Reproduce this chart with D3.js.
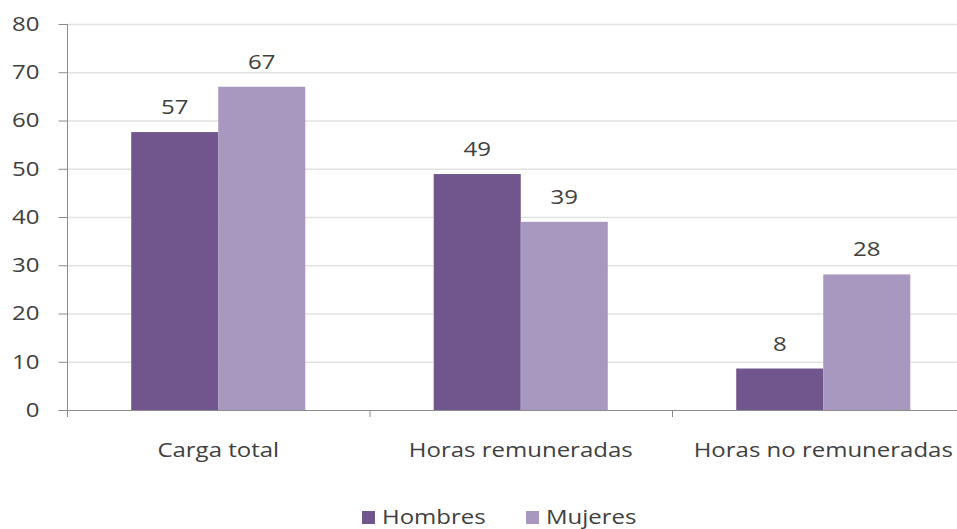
<!DOCTYPE html>
<html>
  <head>
    <meta charset="utf-8">
    <title>Carga de trabajo</title>
    <script src="https://cdnjs.cloudflare.com/ajax/libs/d3/7.8.5/d3.min.js"></script>
    <style>
      body { margin: 0; background: #fff; }
      text { font-family: "Open Sans", sans-serif; fill: #404040; }
    </style>
  </head>

  <body>
    <div id="vis"></div>
    <script>
      // data
      var categories = ['Carga total', 'Horas remuneradas', 'Horas no remuneradas']
      var series = ['Hombres', 'Mujeres']
      var hombres = [57.6, 48.9, 8.6]
      var mujeres = [67.0, 39.0, 28.1]
      var hombresLabels = ['57', '49', '8']
      var mujeresLabels = ['67', '39', '28']
      var yTicks = [0, 10, 20, 30, 40, 50, 60, 70, 80]
      var colors = ['#70568c', '#a897be']

      var W = 957, H = 529
      var mLeft = 67, mRight = 974.5, mTop = 24, mBottom = 410
      var sx = 1.2   // the original text is drawn wide

      function wide(x, y) {
        return 'translate(' + x + ',' + y + ') scale(' + sx + ',1)'
      }

      var rows = categories.map(function(c, i) {
        return { cat: c, vals: [
          { s: series[0], v: hombres[i], label: hombresLabels[i] },
          { s: series[1], v: mujeres[i], label: mujeresLabels[i] }
        ]}
      })

      var x0 = d3.scaleBand().domain(categories).range([mLeft, mRight]).padding(0)
      var x1 = d3.scaleBand().domain(series).range([0, x0.bandwidth()])
                 .paddingInner(0).paddingOuter(0.738)
      var y = d3.scaleLinear().domain([0, 80]).range([mBottom, mTop])
      var color = d3.scaleOrdinal().domain(series).range(colors)

      var svg = d3.select('#vis').append('svg')
                  .attr('width', W).attr('height', H)

      // gridlines
      svg.selectAll('line.grid').data(yTicks.slice(1)).enter()
        .append('line')
        .attr('class', 'grid')
        .attr('x1', mLeft).attr('x2', W)
        .attr('y1', function(d){ return y(d) + 0.5 })
        .attr('y2', function(d){ return y(d) + 0.5 })
        .attr('stroke', '#e2e2e2')
        .attr('stroke-width', 1.5)

      // y axis
      var yAxis = svg.append('g')
        .attr('transform', 'translate(' + (mLeft + 0.5) + ',0)')
        .call(d3.axisLeft(y).tickValues(yTicks).tickSize(9))
      yAxis.select('.domain').remove()
      yAxis.append('line').attr('y1', mTop).attr('y2', mBottom + 7).attr('stroke', '#8c8c8c')
      yAxis.selectAll('.tick line').attr('stroke', '#8c8c8c')
      yAxis.selectAll('.tick text')
        .attr('x', 0)
        .attr('transform', wide(-28, 0))
        .style('font-size', '20px')
        .style('font-family', '"Open Sans", sans-serif')
        .attr('fill', '#404040')

      // bars
      var groups = svg.selectAll('g.cat').data(rows).enter()
        .append('g')
        .attr('class', 'cat')
        .attr('transform', function(d){ return 'translate(' + x0(d.cat) + ',0)' })

      groups.selectAll('rect').data(function(d){ return d.vals }).enter()
        .append('rect')
        .attr('x', function(d){ return x1(d.s) })
        .attr('y', function(d){ return y(d.v) })
        .attr('width', x1.bandwidth())
        .attr('height', function(d){ return y(0) - y(d.v) })
        .attr('fill', function(d){ return color(d.s) })

      groups.selectAll('text.val').data(function(d){ return d.vals }).enter()
        .append('text')
        .attr('class', 'val')
        .attr('transform', function(d){ return wide(x1(d.s) + x1.bandwidth() / 2, y(d.v) - 18) })
        .attr('text-anchor', 'middle')
        .style('font-size', '20px')
        .text(function(d){ return d.label })

      // x axis
      svg.append('line')
        .attr('x1', mLeft).attr('x2', W)
        .attr('y1', mBottom + 0.5).attr('y2', mBottom + 0.5)
        .attr('stroke', '#8c8c8c')

      svg.selectAll('line.xtick').data(categories.slice(1)).enter()
        .append('line')
        .attr('class', 'xtick')
        .attr('x1', function(d){ return x0(d) + 0.5 })
        .attr('x2', function(d){ return x0(d) + 0.5 })
        .attr('y1', mBottom).attr('y2', mBottom + 7)
        .attr('stroke', '#8c8c8c')

      svg.selectAll('text.catlab').data(categories).enter()
        .append('text')
        .attr('class', 'catlab')
        .attr('transform', function(d){ return wide(x0(d) + x0.bandwidth() / 2, 457) })
        .attr('text-anchor', 'middle')
        .style('font-size', '20px')
        .text(function(d){ return d })

      // legend
      var legendX = [362, 526]
      var legend = svg.selectAll('g.legend').data(series).enter()
        .append('g')
        .attr('class', 'legend')
        .attr('transform', function(d, i){ return 'translate(' + legendX[i] + ',511)' })
      legend.append('rect')
        .attr('width', 13).attr('height', 13)
        .attr('fill', function(d){ return color(d) })
      legend.append('text')
        .attr('transform', wide(20, 13))
        .style('font-size', '20px')
        .text(function(d){ return d })
    </script>
  </body>
</html>
